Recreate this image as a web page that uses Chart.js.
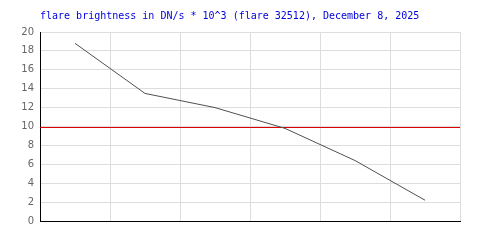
<!DOCTYPE html>
<html>
<head>
<meta charset="utf-8">
<script src="https://cdn.jsdelivr.net/npm/chart.js@4/dist/chart.umd.min.js"></script>
<style>
  html, body { margin: 0; padding: 0; background: #fff; }
  #wrap { width: 500px; height: 250px; }
</style>
</head>
<body>
<div id="wrap"><canvas id="flareChart" width="500" height="250"></canvas></div>
<script>
// chart data
const titleText = 'flare brightness in DN/s * 10^3 (flare 32512), December 8, 2025';
const samples = ['1', '2', '3', '4', '5', '6'];
const brightness = [18.8, 13.5, 12.0, 9.8, 6.4, 2.2];
const threshold = 10;
const yMin = 0, yMax = 20, yStep = 2;

// draws the title over the plot's left edge and the threshold line
const overlay = {
    id: 'overlay',
    afterDraw(chart) {
        const ctx = chart.ctx;
        const area = chart.chartArea;
        ctx.save();
        ctx.font = '10px "DejaVu Sans Mono", monospace';
        ctx.fillStyle = '#0000dd';
        ctx.textBaseline = 'alphabetic';
        ctx.fillText(titleText, area.left, 19);
        ctx.restore();
    },
    beforeDatasetsDraw(chart) {
        const ctx = chart.ctx;
        const area = chart.chartArea;
        const y = Math.round(chart.scales.y.getPixelForValue(threshold)) + 0.5;
        ctx.save();
        ctx.strokeStyle = '#dd0000';
        ctx.lineWidth = 1;
        ctx.beginPath();
        ctx.moveTo(area.left, y);
        ctx.lineTo(area.right, y);
        ctx.stroke();
        ctx.restore();
    }
};

new Chart(document.getElementById('flareChart').getContext('2d'), {
    type: 'line',
    data: {
        labels: samples,
        datasets: [{
            data: brightness,
            borderColor: '#505050',
            borderWidth: 1,
            pointRadius: 0,
            tension: 0,
            fill: false
        }]
    },
    options: {
        responsive: false,
        animation: false,
        layout: { padding: { left: 0, right: 40, top: 32, bottom: 29 } },
        plugins: {
            legend: { display: false },
            tooltip: { enabled: false }
        },
        scales: {
            x: {
                offset: true,
                grid: { offset: true, color: '#dddddd', drawTicks: false },
                border: { color: '#000000', width: 1 },
                ticks: { display: false },
                afterFit(scale) { scale.height = 0; }
            },
            y: {
                min: yMin,
                max: yMax,
                grid: { color: '#dddddd', drawTicks: false },
                border: { color: '#000000', width: 1 },
                ticks: {
                    stepSize: yStep,
                    padding: 6,
                    color: '#666666',
                    font: { family: 'DejaVu Sans', size: 10 }
                },
                afterFit(scale) { scale.width = 40; }
            }
        }
    },
    plugins: [overlay]
});
</script>
</body>
</html>
